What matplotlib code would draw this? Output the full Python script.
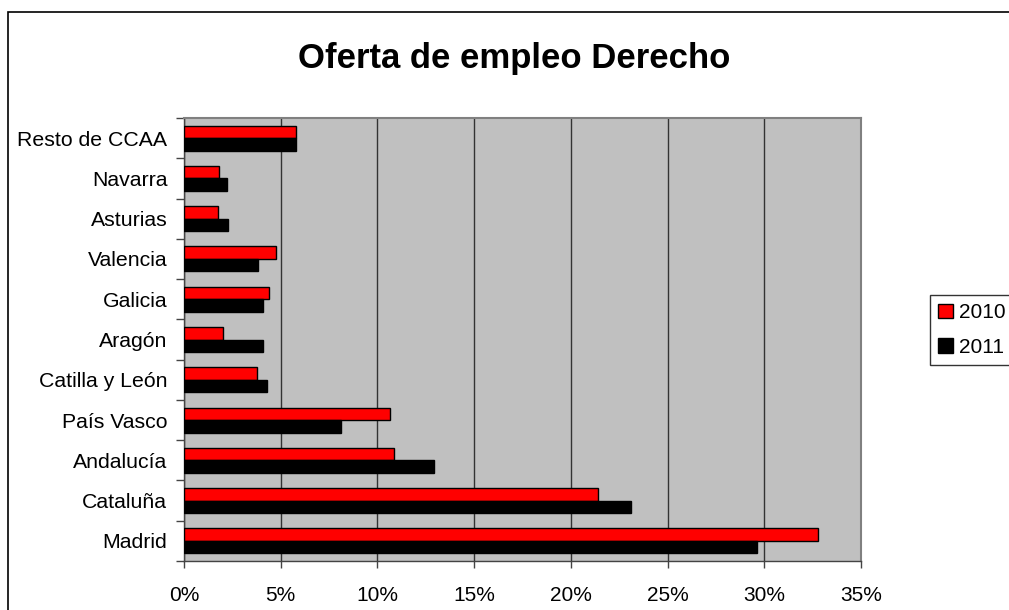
import numpy as np
import matplotlib
matplotlib.use('Agg')
import matplotlib.pyplot as plt
from matplotlib.patches import Patch, Rectangle
from matplotlib.ticker import FixedLocator, PercentFormatter

plt.rcParams.update({
    'font.family': ['Liberation Sans', 'DejaVu Sans'],
    'font.size': 15,
})

# Regions listed from bottom (Madrid) to top (Resto de CCAA)
regions = ['Madrid', 'Cataluña', 'Andalucía', 'País Vasco', 'Catilla y León',
           'Aragón', 'Galicia', 'Valencia', 'Asturias', 'Navarra', 'Resto de CCAA']
share_2010 = [32.8, 21.4, 10.85, 10.65, 3.75, 2.0, 4.4, 4.77, 1.75, 1.8, 5.8]
share_2011 = [29.6, 23.1, 12.9, 8.1, 4.27, 4.1, 4.1, 3.8, 2.3, 2.2, 5.8]
years = ['2010', '2011']
colors = ['#FF0000', '#000000']

fig = plt.figure(figsize=(10.09, 6.10), dpi=100)

# outer chart border (cut off at right and bottom like the original)
fig.patches.append(Rectangle((8 / 1009, -0.05), 1.2, 1 - 12 / 610 + 0.05,
                             transform=fig.transFigure, fill=False,
                             edgecolor='black', linewidth=1.2))

ax = fig.add_axes([184 / 1009, 1 - 561 / 610, (861 - 184) / 1009, (561 - 118) / 610])
ax.set_facecolor('#C0C0C0')

y = np.arange(len(regions))
h = 0.31
ax.barh(y + h / 2, share_2010, height=h, color=colors[0], edgecolor='black',
        linewidth=1, zorder=3)
ax.barh(y - h / 2, share_2011, height=h, color=colors[1], edgecolor='black',
        linewidth=1, zorder=3)

ax.set_xlim(0, 35)
ax.set_ylim(-0.5, len(regions) - 0.5)
ax.set_xticks(np.arange(0, 36, 5))
ax.xaxis.set_major_formatter(PercentFormatter(decimals=0))
ax.grid(axis='x', color='#333333', linewidth=1, zorder=1)

# category separators as major ticks, names on minor ticks at the centres
ax.yaxis.set_major_locator(FixedLocator(np.arange(-0.5, len(regions), 1.0)))
ax.yaxis.set_minor_locator(FixedLocator(y))
ax.set_yticklabels([], minor=False)
ax.set_yticklabels(regions, minor=True)
ax.tick_params(axis='y', which='major', length=6, color='#444444', width=1)
ax.tick_params(axis='y', which='minor', length=0, pad=12, labelsize=15.3)
ax.tick_params(axis='x', length=5, color='#444444', width=1, pad=13, labelsize=15)

for side in ['top', 'right']:
    ax.spines[side].set_color('#808080')
    ax.spines[side].set_linewidth(1.5)
for side in ['left', 'bottom']:
    ax.spines[side].set_color('#444444')
    ax.spines[side].set_linewidth(1)

fig.text(514 / 1009, 1 - 68 / 610, 'Oferta de empleo Derecho',
         ha='center', va='baseline', fontsize=25, fontweight='bold')

handles = [Patch(facecolor=c, edgecolor='black', linewidth=1) for c in colors]
leg = fig.legend(handles, years, loc='upper left',
                 bbox_to_anchor=(930 / 1009, 1 - 295 / 610),
                 frameon=True, fancybox=False, edgecolor='black',
                 handlelength=0.7, handleheight=0.7, handletextpad=0.3,
                 labelspacing=0.75, borderpad=0.4, borderaxespad=0,
                 fontsize=15)
leg.get_frame().set_linewidth(1)

fig.savefig('out.png', dpi=100)
